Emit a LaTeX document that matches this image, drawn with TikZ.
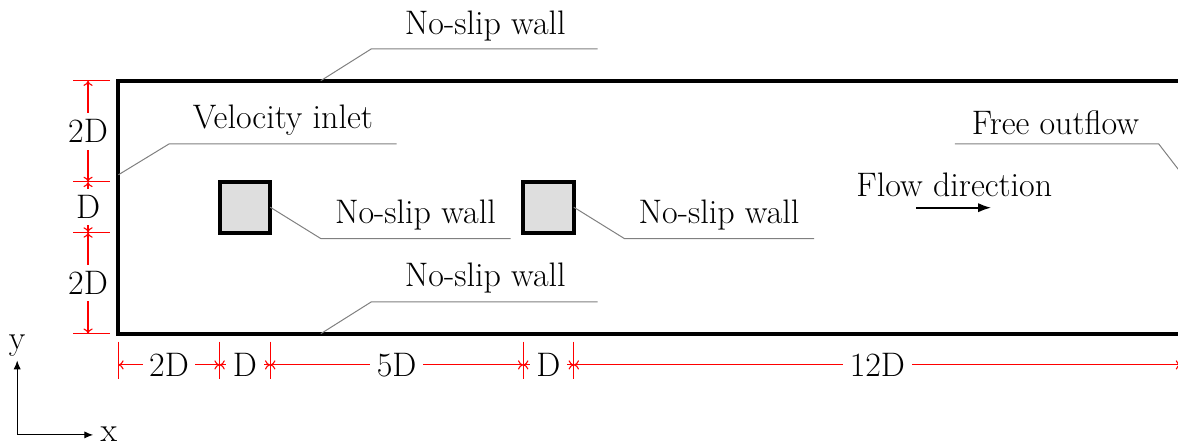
\documentclass[tikz,border=0pt]{standalone}
\usepackage{tikz}
\usetikzlibrary{positioning, arrows.meta}
\tikzset{
  wall/.style={line width=2pt},
  block/.style={wall, fill=gray!26},
  leader/.style={draw=gray, line width=0.5pt},
  walllabel/.style={above, inner sep=4.2pt},
  dimline/.style={draw=red, line width=0.55pt, <->, >={To[length=2.6pt, width=4.6pt]}},
  dimtick/.style={draw=red, line width=0.55pt},
  dimlabel/.style={fill=white, text=black, midway},
  axisline/.style={line width=0.5pt, ->, >={Latex[length=4.4pt, width=3.6pt]}},
  every node/.style={font=\fontsize{17}{20}\selectfont},
}

\begin{document}
\begin{tikzpicture}[x=25.3pt, y=25.3pt]
    \useasboundingbox (-2.34,-2.14) rectangle (20.941,6.595);

    % channel and blocks
    \coordinate (sw) at (0,0);
    \coordinate (ne) at (21,5);
    \draw[wall] (sw) rectangle (ne);
    \node[block, draw, minimum size=25.3pt, inner sep=0pt, outer sep=0pt] (b1) at (2.5,2.5) {};
    \node[block, draw, minimum size=25.3pt, inner sep=0pt, outer sep=0pt] (b2) at (8.5,2.5) {};

    % leaders
    \coordinate (topw) at (4,5);
    \coordinate (botw) at (4,0);
    \coordinate (inw) at (0,3.14);
    \coordinate (outw) at (21,3.18);
    \coordinate (topa) at (5,5.63);
    \coordinate (topb) at (9.47,5.63);
    \coordinate (bota) at (5,0.63);
    \coordinate (botb) at (9.47,0.63);
    \coordinate (ina) at (1,3.75);
    \coordinate (inb) at (5.5,3.75);
    \coordinate (outa) at (20.56,3.75);
    \coordinate (outb) at (16.53,3.75);
    \coordinate (b1a) at (4,1.88);
    \coordinate (b1b) at (7.75,1.88);
    \coordinate (b2a) at (10,1.88);
    \coordinate (b2b) at (13.75,1.88);

    \draw[leader] (topw) -- (topa) -- (topb);
    \draw[leader] (botw) -- (bota) -- (botb);
    \draw[leader] (inw) -- (ina) -- (inb);
    \draw[leader] (outw) -- (outa) -- (outb);
    \draw[leader] (b1.east) -- (b1a) -- (b1b);
    \draw[leader] (b2.east) -- (b2a) -- (b2b);

    % labels
    \node[walllabel] (ltop) at (7.25,5.60) {No-slip wall};
    \node[walllabel] (lbot) at (7.25,0.63) {No-slip wall};
    \node[walllabel] (lin) at (3.25,3.75) {Velocity inlet};
    \node[walllabel] (lout) at (18.52,3.75) {Free outflow};
    \node[walllabel] (lb1) at (5.87,1.88) {No-slip wall};
    \node[walllabel] (lb2) at (11.87,1.88) {No-slip wall};

    % flow direction
    \node (lflow) at (16.52,2.94) {Flow direction};
    \coordinate (fa) at (15.77,2.49);
    \coordinate (fb) at (17.25,2.49);
    \draw[line width=1pt, -{Latex[length=6.5pt, width=4.6pt]}] (fa) -- (fb);

    % vertical dimensions
    \coordinate (v0) at (-0.6,0);
    \coordinate (v1) at (-0.6,2);
    \coordinate (v2) at (-0.6,3);
    \coordinate (v3) at (-0.6,5);
    \draw[dimline] (v0) -- node[dimlabel] (d1) {2D} (v1);
    \draw[dimline] (v1) -- node[dimlabel] (d2) {D} (v2);
    \draw[dimline] (v2) -- node[dimlabel] (d3) {2D} (v3);
    \draw[dimtick] (v0) ++(-0.29,0) -- ++(0.73,0);
    \draw[dimtick] (v1) ++(-0.29,0) -- ++(0.73,0);
    \draw[dimtick] (v2) ++(-0.29,0) -- ++(0.73,0);
    \draw[dimtick] (v3) ++(-0.29,0) -- ++(0.73,0);

    % horizontal dimensions
    \coordinate (h0) at (0,-0.617);
    \coordinate (h1) at (2,-0.617);
    \coordinate (h2) at (3,-0.617);
    \coordinate (h3) at (8,-0.617);
    \coordinate (h4) at (9,-0.617);
    \coordinate (h5) at (21,-0.617);
    \draw[dimline] (h0) -- node[dimlabel] (d4) {2D} (h1);
    \draw[dimline] (h1) -- node[dimlabel] (d5) {D} (h2);
    \draw[dimline] (h2) -- node[dimlabel] (d6) {5D} (h3);
    \draw[dimline] (h3) -- node[dimlabel] (d7) {D} (h4);
    \draw[dimline] (h4) -- node[dimlabel] (d8) {12D} (h5);
    \draw[dimtick] (h0) ++(0,0.46) -- ++(0,-0.73);
    \draw[dimtick] (h1) ++(0,0.46) -- ++(0,-0.73);
    \draw[dimtick] (h2) ++(0,0.46) -- ++(0,-0.73);
    \draw[dimtick] (h3) ++(0,0.46) -- ++(0,-0.73);
    \draw[dimtick] (h4) ++(0,0.46) -- ++(0,-0.73);
    \draw[dimtick] (h5) ++(0,0.46) -- ++(0,-0.73);

    % axes
    \coordinate (ax0) at (-2,-2);
    \coordinate (axx) at (-0.5,-2);
    \coordinate (axy) at (-2,-0.53);
    \draw[axisline] (ax0) -- (axx);
    \draw[axisline] (ax0) -- (axy);
    \node[right=3.5pt of axx, inner sep=0pt, yshift=0.5pt] (lx) {x};
    \node[above=0pt of axy, inner sep=2pt] (ly) {y};
\end{tikzpicture}
\end{document}
